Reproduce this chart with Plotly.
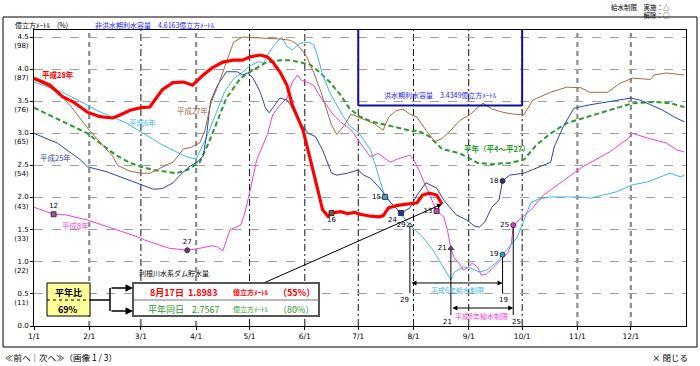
import plotly.graph_objects as go

YEAR = "2016"
def d(md):
    return f"{YEAR}-{md}"

# ---------------- data ----------------
h28_dates = ["01-01","01-10","01-17","01-23","01-31","02-07","02-14","02-17","02-24","03-01","03-06","03-09",
             "03-13","03-19","03-25","03-30","04-05","04-10","04-16","04-22","04-27","05-01","05-07","05-11",
             "05-14","05-18","05-22","05-25","05-31","06-06","06-11","06-14","06-16","06-21","06-25","06-29",
             "07-02","07-08","07-13","07-15","07-18","07-23","07-30","08-03","08-06","08-10","08-14","08-17"]
h28_vals = [3.86,3.75,3.57,3.49,3.33,3.26,3.24,3.27,3.36,3.40,3.41,3.52,
            3.68,3.79,3.80,3.75,3.91,4.02,4.11,4.14,4.14,4.19,4.22,4.19,
            4.11,3.96,3.75,3.44,3.05,2.38,1.81,1.71,1.76,1.78,1.75,1.77,
            1.74,1.71,1.70,1.72,1.84,1.88,1.90,1.92,2.04,2.07,2.04,1.8983]

h27_dates = ["01-01","01-08","01-16","01-22","02-01","02-07","02-14","02-17","02-24","03-01","03-06","03-10",
             "03-16","03-19","03-22","03-25","03-29","04-03","04-06","04-09","04-14","04-18","04-22","04-27",
             "05-05","05-18","05-24","05-28","06-02","06-06","06-10","06-13","06-16","06-19","06-23","06-27",
             "07-01","07-05","07-10","07-15","07-18","07-22","07-26","07-30","08-03","08-08","08-13","08-17",
             "08-22","08-27","09-02","09-09","09-14","09-20","09-26","10-02","10-07","10-17","10-26","11-03",
             "11-08","11-18","11-25","12-02","12-12","12-14","12-21","12-31"]
h27_vals = [3.84,3.75,3.60,3.41,3.05,2.86,2.65,2.50,2.41,2.38,2.38,2.43,
            2.52,2.55,2.66,2.76,2.78,2.85,3.05,3.44,3.80,4.11,4.42,4.50,
            4.49,4.47,4.45,4.38,4.20,3.95,3.65,3.39,3.13,2.98,3.12,3.30,
            3.25,3.20,3.15,3.05,3.25,3.35,3.38,3.30,3.25,3.05,2.87,2.92,
            3.05,3.20,3.30,3.47,3.38,3.33,3.30,3.29,3.52,3.64,3.72,3.71,
            3.64,3.64,3.78,3.86,3.84,3.91,3.94,3.91]

h6_dates = ["01-01","01-17","01-31","02-05","02-22","03-01","03-13","03-27","04-01","04-07","04-12","04-17",
            "04-22","04-27","05-01","05-06","05-09","05-11","05-15","05-19","05-22","05-25","05-29","06-03",
            "06-06","06-08","06-11","06-15","06-19","06-22","06-26","07-01","07-08","07-13","07-16","07-23",
            "07-30","08-06","08-12","08-22","08-24","08-29","09-02","09-07","09-11","09-17","09-20","09-28",
            "10-02","10-06","10-11","10-17","11-03","11-08","11-23","12-02","12-10","12-23","12-29","12-31"]
h6_vals = [3.80,3.64,3.44,3.36,3.16,3.02,2.82,2.63,2.60,2.95,3.30,3.65,
           3.85,3.95,4.05,4.12,4.10,4.22,4.38,4.50,4.35,4.30,4.40,4.42,
           4.38,4.22,3.91,3.64,3.44,3.29,3.12,3.02,2.74,2.27,2.01,1.81,
           1.57,1.39,1.18,0.72,0.84,0.92,0.90,0.84,0.87,1.00,1.11,1.37,
           1.65,1.93,1.98,2.01,2.01,1.99,2.09,2.20,2.24,2.38,2.32,2.35]

h25_dates = ["01-01","01-14","01-27","01-31","02-11","02-24","03-01","03-08","03-13","03-19","03-23","03-28",
             "04-02","04-05","04-07","04-09","04-13","04-18","04-24","04-27","04-30","05-03","05-07","05-10",
             "05-12","05-15","05-18","05-22","05-24","05-29","06-03","06-07","06-11","06-16","06-19","06-25",
             "07-01","07-04","07-08","07-13","07-19","07-25","07-30","08-03","08-08","08-14","08-18","08-25",
             "08-31","09-04","09-07","09-10","09-14","09-18","09-20","09-24","10-02","10-17","10-19","10-24",
             "10-30","11-07","11-19","12-01","12-06","12-19","12-25","12-31"]
h25_vals = [3.00,2.85,2.59,2.48,2.40,2.27,2.20,2.13,2.14,2.23,2.35,2.48,
            2.56,2.65,3.00,3.49,3.75,3.96,3.96,3.91,3.94,3.86,3.64,3.39,
            3.32,3.44,3.55,3.52,3.44,3.18,3.00,2.95,2.74,2.38,2.35,2.38,
            2.43,2.35,2.30,2.15,1.93,1.76,1.84,2.04,2.23,2.15,1.96,1.73,
            1.65,1.56,1.54,1.62,1.85,1.96,2.26,2.35,2.38,2.55,2.79,3.10,
            3.39,3.44,3.49,3.55,3.52,3.36,3.26,3.18]

h8_dates = ["01-01","01-12","01-19","01-31","02-12","02-22","03-01","03-03","03-17","03-21","03-27","04-03",
            "04-10","04-13","04-16","04-20","04-26","04-28","05-01","05-05","05-11","05-14","05-18","05-22",
            "05-25","05-28","05-30","06-02","06-06","06-09","06-13","06-17","06-21","06-25","06-28","07-02",
            "07-08","07-12","07-19","07-23","07-30","08-01","08-04","08-08","08-12","08-14","08-18","08-20",
            "08-22","08-24","08-26","08-29","08-31","09-03","09-06","09-08","09-11","09-15","09-19","09-23",
            "09-25","09-26","10-06","10-13","10-21","11-04","11-19","11-30","12-02","12-10","12-21","12-27","12-31"]
h8_vals = [1.85,1.74,1.73,1.65,1.54,1.45,1.37,1.34,1.21,1.20,1.18,1.21,
           1.25,1.23,1.17,1.50,1.57,1.73,2.07,2.59,2.98,3.29,3.44,3.55,
           3.80,3.91,3.83,3.80,3.75,3.60,3.44,3.29,3.18,3.10,3.02,2.85,
           2.63,2.69,2.55,2.60,2.66,2.60,2.43,2.17,1.93,1.79,1.70,1.50,
           1.21,1.05,1.00,0.87,0.90,0.98,0.92,0.79,0.81,0.92,1.03,1.14,
           1.29,1.57,1.81,2.04,2.20,2.48,2.71,2.93,3.00,2.93,2.85,2.74,2.71]

avg_dates = ["01-01","01-17","01-31","02-07","02-16","02-24","03-01","03-08","03-16","03-21","03-27","04-03",
             "04-08","04-13","04-18","04-26","05-03","05-10","05-18","05-24","05-29","06-04","06-09","06-15",
             "06-21","06-26","07-02","07-09","07-17","07-24","08-01","08-03","08-10","08-17","08-27","09-06",
             "09-13","09-24","10-02","10-09","10-17","10-26","11-07","11-19","12-02","12-14","12-23","12-31"]
avg_vals = [3.40,3.18,3.00,2.85,2.66,2.54,2.48,2.43,2.40,2.38,2.43,2.55,
            2.85,3.20,3.55,3.86,3.99,4.10,4.14,4.14,4.11,4.07,3.96,3.80,
            3.60,3.39,3.26,3.18,3.13,3.08,3.03,3.05,2.95,2.7567,2.69,2.54,
            2.52,2.54,2.59,2.82,3.00,3.16,3.26,3.36,3.47,3.49,3.47,3.41]

# events (restriction start / end etc.)
ev_dates = ["01-12","03-27","06-16","07-16","07-25","07-30","08-14","08-22","09-20","09-20","09-26"]
ev_vals = [1.74,1.18,1.76,2.01,1.76,1.57,1.79,1.21,2.26,1.11,1.57]
ev_labels = ["12","27","16","15","24","29","13","21","18","19","25"]
ev_symbols = ["square","circle","square","square","square","triangle-up","square","triangle-up","circle","circle","circle"]
ev_colors = ["#b04aa8","#8a2a8a","#a04040","#3aa8dc","#1f3a9a","#c8c8ff","#d040b8","#9a3a7a","#1f2f8a","#2aa0d8","#d040c0"]
ev_textpos = ["top center","top center","bottom center","middle left","bottom left","middle left",
              "middle left","middle left","middle left","middle left","middle left"]

# restriction periods
r6_start, r6_end, r6_level, r6_bottom = "07-30", "09-20", 0.67, 0.51
r8_start, r8_end, r8_level, r8_bottom = "08-22", "09-26", 0.28, 0.17

flood_start, flood_end = "07-01", "10-01"
flood_cap, nonflood_cap = 3.4349, 4.6163

y_ticks = [0.0,0.5,1.0,1.5,2.0,2.5,3.0,3.5,4.0,4.5]
y_pct = ["",  "(11)","(22)","(33)","(43)","(54)","(65)","(76)","(87)","(98)"]

month_starts = ["02-01","03-01","04-01","05-01","06-01","07-01","08-01","09-01","10-01","11-01","12-01"]
month_style = ["g","k","g","k","k","k","k","k","k","g","g"]

FONT = "Noto Sans CJK JP, Noto Sans, sans-serif"
C_RED = "#ff0000"; C_BROWN = "#a86a3a"; C_CYAN = "#3bb8e8"; C_BLUE = "#2b45b0"
C_MAG = "#f23cdc"; C_GREEN = "#2a9a2a"

# pixel helpers for decorations (plot area: x 34..686, y 30..326)
def pxp(x): return (x - 34) / 652
def pyp(y): return (326 - y) / 296

fig = go.Figure()

def line(dates, vals, color, width, dash="solid", name=""):
    fig.add_trace(go.Scatter(x=[d(s) for s in dates], y=vals, mode="lines", name=name,
                             line=dict(color=color, width=width, dash=dash), hoverinfo="skip"))

line(avg_dates, avg_vals, C_GREEN, 2, "5px,3px", "平年")
line(h8_dates, h8_vals, C_MAG, 1, name="平成8年")
line(h6_dates, h6_vals, C_CYAN, 1, name="平成6年")
line(h25_dates, h25_vals, C_BLUE, 1, name="平成25年")
line(h27_dates, h27_vals, C_BROWN, 1, name="平成27年")
line(h28_dates, h28_vals, C_RED, 3.2, name="平成28年")

# restriction vertical lines
for s, v0, v1 in [(r6_start, ev_vals[5], r6_bottom), (r6_end, ev_vals[9], r6_bottom),
                  (r8_start, ev_vals[7], r8_bottom), (r8_end, ev_vals[10], r8_bottom)]:
    fig.add_trace(go.Scatter(x=[d(s), d(s)], y=[v0, v1], mode="lines",
                             line=dict(color="black", width=1), hoverinfo="skip"))

fig.add_trace(go.Scatter(x=[d(s) for s in ev_dates], y=ev_vals, mode="markers+text",
                         text=ev_labels, textposition=ev_textpos,
                         textfont=dict(size=7, color="black", family="DejaVu Sans"),
                         marker=dict(symbol=ev_symbols, size=5, color=ev_colors,
                                     line=dict(color="#222", width=0.8)),
                         hoverinfo="skip"))

shapes = []
# month vertical lines
for m, st in zip(month_starts, month_style):
    if st == "g":
        ln = dict(color="#8c8c8c", width=2.2, dash="5px,4px")
    else:
        ln = dict(color="#111", width=1, dash="7px,3px,2px,3px")
    shapes.append(dict(type="line", xref="x", yref="paper", x0=d(m), x1=d(m), y0=0, y1=1,
                       line=ln, layer="below"))
# flood season box
fl = dict(color="#1010a0", width=2)
shapes += [
    dict(type="line", xref="x", yref="y", x0=d(flood_start), x1=d(flood_start), y0=flood_cap, y1=4.61, line=fl),
    dict(type="line", xref="x", yref="y", x0=d(flood_end), x1=d(flood_end), y0=flood_cap, y1=4.61, line=fl),
    dict(type="line", xref="x", yref="y", x0=d(flood_start), x1=d(flood_end), y0=flood_cap, y1=flood_cap, line=fl),
]
# outer frame
shapes.append(dict(type="rect", xref="paper", yref="paper", x0=pxp(3), x1=pxp(697), y0=pyp(347), y1=pyp(17),
                   line=dict(color="black", width=1)))
# yellow box
shapes.append(dict(type="rect", xref="paper", yref="paper", x0=pxp(47), x1=pxp(90), y0=pyp(316), y1=pyp(283),
                   fillcolor="#ffff99", line=dict(color="black", width=1)))
shapes.append(dict(type="line", xref="paper", yref="paper", x0=pxp(47), x1=pxp(90), y0=pyp(300), y1=pyp(300),
                   line=dict(color="black", width=1, dash="dot")))
# connectors
shapes.append(dict(type="line", xref="paper", yref="paper", x0=pxp(90), x1=pxp(110), y0=pyp(300), y1=pyp(300),
                   line=dict(color="black", width=1.5)))
shapes.append(dict(type="line", xref="paper", yref="paper", x0=pxp(110), x1=pxp(110), y0=pyp(288), y1=pyp(311),
                   line=dict(color="black", width=1.5)))
# info box
shapes.append(dict(type="rect", xref="paper", yref="paper", x0=pxp(133), x1=pxp(319), y0=pyp(316), y1=pyp(283),
                   fillcolor="white", line=dict(color="#555", width=2)))
shapes.append(dict(type="line", xref="paper", yref="paper", x0=pxp(133), x1=pxp(319), y0=pyp(300), y1=pyp(300),
                   line=dict(color="#777", width=1)))

ann = []
def txt(t, x, y, size=7.5, color="black", xa="left", ya="middle", bold=False, align="left"):
    if bold:
        t = f"<b>{t}</b>"
    ann.append(dict(text=t, xref="paper", yref="paper", x=pxp(x), y=pyp(y), xanchor=xa, yanchor=ya,
                    align=align, showarrow=False, font=dict(size=size, color=color, family=FONT)))

txt("億立方ﾒｰﾄﾙ　(%)", 13, 25, 7)
txt(f"非洪水期利水容量　{nonflood_cap}億立方ﾒｰﾄﾙ", 93, 25, 7, "#1a1aff")
txt(f"洪水期利水容量　{flood_cap}億立方ﾒｰﾄﾙ", 440, 95, 7, "#1a1aff", xa="center")
txt("給水制限　実施：△<br>解除：○", 672, 0, 6.5, xa="right", ya="top", align="right")

txt("平成28年", 40, 75, 7.5, C_RED, bold=True)
txt("平成27年", 175, 110, 7.5, C_BROWN)
txt("平成6年", 127, 122, 7.5, C_CYAN)
txt("平成25年", 38, 157, 7.5, C_BLUE)
txt("平成8年", 60, 225, 7.5, C_MAG)
txt("平年（平4～平27）", 462, 148, 7.5, C_GREEN, bold=True)

txt("平成6年給水制限", 457, 290, 7, C_CYAN, xa="center")
txt("平成8年給水制限", 481, 316, 7, C_MAG, xa="center")

txt("利根川水系ダム貯水量", 137, 273, 7)
txt("平年比", 68, 292, 9, bold=True, xa="center")
txt("69%", 68, 309, 9, bold=True, xa="center")
txt("8月17日", 148, 292, 9, C_RED, bold=True)
txt(f"{h28_vals[-1]:.4f}", 186, 292, 9, C_RED, bold=True)
txt("億立方ﾒｰﾄﾙ", 231, 292, 7, C_RED, bold=True)
txt("（55%）", 276, 292, 9, C_RED, bold=True)
txt("平年同日", 146, 309, 9, C_GREEN)
txt(f"{avg_vals[avg_dates.index('08-17')]:.4f}", 190, 309, 9, C_GREEN)
txt("億立方ﾒｰﾄﾙ", 231, 309, 7, C_GREEN)
txt("（80%）", 276, 309, 9, C_GREEN)

txt("≪前へ｜次へ≫（画像 1 / 3）", 3, 357, 8.5)
txt("× 閉じる", 690, 357, 8.5, xa="right")

# restriction day labels
for s, v, lab, xs in [(r6_start, r6_bottom, "29", -5), (r6_end, r6_bottom, "19", 1),
                      (r8_start, r8_bottom, "21", -3), (r8_end, r8_bottom, "25", 3)]:
    ann.append(dict(text=lab, x=d(s), y=v, xref="x", yref="y", yanchor="top", xanchor="center",
                    xshift=xs, yshift=-1, showarrow=False, font=dict(size=7, family="DejaVu Sans")))

# double arrows for restriction periods
for s, e, lv in [(r6_start, r6_end, r6_level), (r8_start, r8_end, r8_level)]:
    ann.append(dict(text="", x=d(e), y=lv, xref="x", yref="y", axref="x", ayref="y", ax=d(s), ay=lv,
                    showarrow=True, arrowhead=2, arrowsize=1, arrowwidth=1, arrowside="end+start",
                    arrowcolor="black"))
# pointer from info box to latest value
ann.append(dict(text="", x=d(h28_dates[-1]), y=h28_vals[-1], xref="x", yref="y", axref="x", ayref="y",
                ax=d("05-09"), ay=0.67, showarrow=True, arrowhead=2, arrowsize=1, arrowwidth=1,
                arrowcolor="black"))
# connector arrows into info box
for yy in (288, 311):
    ann.append(dict(text="", xref="paper", yref="paper", x=pxp(133), y=pyp(yy), ax=-23, ay=0,
                    showarrow=True, arrowhead=2, arrowsize=1, arrowwidth=1.5, arrowcolor="black"))

fig.update_layout(
    width=700, height=366, margin=dict(l=34, r=14, t=30, b=40),
    paper_bgcolor="white", plot_bgcolor="white", showlegend=False,
    font=dict(family=FONT, size=8, color="black"),
    shapes=shapes, annotations=ann,
    xaxis=dict(type="date", range=[d("01-01"), "2016-12-31 23:00"], tick0=d("01-01"), dtick="M1",
               tickformat="%-m/%-d", showgrid=False, showline=True, linecolor="black", linewidth=1,
               mirror=True, ticks="outside", ticklen=3, tickcolor="black", automargin=False,
               tickfont=dict(size=7.5, family="DejaVu Sans"), zeroline=False),
    yaxis=dict(range=[0, 4.61], tickvals=y_ticks, automargin=False,
               ticktext=[f"{v:.1f}<br>{p if p else ' '}" for v, p in zip(y_ticks, y_pct)],
               showgrid=True, gridcolor="#a0a0a0", griddash="dash", gridwidth=1,
               showline=True, linecolor="black", linewidth=1, mirror=True,
               ticks="outside", ticklen=3, tickcolor="black", ticklabelshift=4,
               tickfont=dict(size=7, family="DejaVu Sans"), zeroline=False),
)

fig.write_html("out.html", config={"displayModeBar": False},
               post_script="document.body.style.margin='0';")
